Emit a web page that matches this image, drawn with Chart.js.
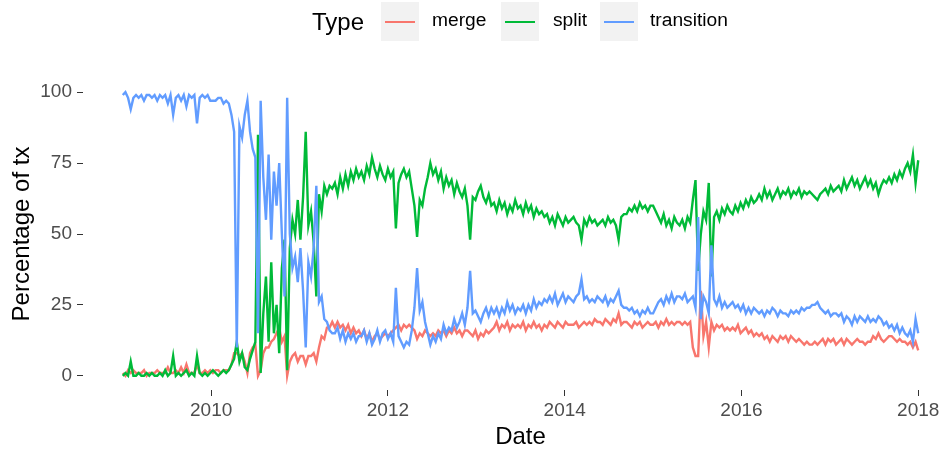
<!DOCTYPE html>
<html>
<head>
<meta charset="utf-8">
<script src="https://cdn.jsdelivr.net/npm/chart.js@4.4.1/dist/chart.umd.min.js"></script>
<style>
  body { margin: 0; background: #fff; overflow: hidden; }
  #wrap { position: relative; width: 946px; height: 455px; overflow: hidden; font-family: "Liberation Sans", Arial, sans-serif; }
  #chart { position: absolute; left: 0; top: 0; }
  .lg { position: absolute; white-space: nowrap; color: #000; }
  .key { position: absolute; top: 2px; width: 38px; height: 39px; background: #F2F2F2; }
  .key span { position: absolute; left: 4px; top: 19px; width: 30px; height: 2px; }
</style>
</head>
<body>
<div id="wrap">
  <canvas id="chart" width="960" height="455"></canvas>
  <!-- 凡例（上部） -->
  <div class="lg" style="left:312px; top:8px; font-size:24px; line-height:27px;">Type</div>
  <div class="key" style="left:381px;"><span style="background:#F8766D"></span></div>
  <div class="lg" style="left:432px; top:9px; font-size:19.2px; line-height:22px;">merge</div>
  <div class="key" style="left:501px;"><span style="background:#00BA38"></span></div>
  <div class="lg" style="left:553px; top:9px; font-size:19.2px; line-height:22px;">split</div>
  <div class="key" style="left:600px;"><span style="background:#619CFF"></span></div>
  <div class="lg" style="left:650px; top:9px; font-size:19.2px; line-height:22px;">transition</div>
</div>
<script>
// 値は画像から読み取り（0.03年おき、2009.00〜2018.00）
const merge = [
  1, 0, 2, 1, 2, 1, 1, 1, 2, 0,
  1, 1, 1, 2, 1, 1, 1, 3, 1, 1,
  2, 1, 3, 1, 4, 1, 1, 1, 4, 1,
  1, 2, 1, 2, 1, 2, 2, 1, 2, 2,
  2, 4, 8, 8, 7, 8, 5, 1, 8, 10,
  11, 0, 2, 8, 10, 10, 12, 13, 15, 17,
  12, 14, 0, 5, 7, 8, 5, 7, 7, 4,
  7, 7, 8, 5, 10, 14, 13, 17, 17, 19,
  17, 19, 17, 18, 16, 18, 15, 17, 15, 16,
  14, 16, 13, 15, 12, 14, 15, 13, 14, 15,
  14, 15, 16, 17, 18, 16, 18, 17, 18, 17,
  16, 13, 15, 14, 16, 15, 14, 15, 14, 16,
  15, 16, 14, 16, 15, 17, 15, 16, 14, 16,
  16, 15, 14, 16, 13, 15, 14, 16, 15, 16,
  17, 19, 16, 18, 17, 19, 16, 18, 17, 18,
  17, 19, 16, 18, 17, 19, 17, 18, 16, 18,
  17, 19, 18, 17, 19, 18, 17, 19, 18, 18,
  18, 19, 17, 18, 19, 18, 19, 18, 20, 19,
  19, 18, 20, 19, 18, 20, 19, 22, 18, 19,
  19, 18, 17, 19, 18, 19, 17, 18, 19, 18,
  18, 19, 17, 19, 18, 20, 18, 19, 18, 19,
  19, 18, 19, 18, 19, 10, 7, 7, 30, 14,
  19, 10, 19, 16, 18, 17, 18, 16, 17, 16,
  17, 16, 18, 15, 16, 17, 15, 16, 14, 15,
  14, 15, 13, 14, 12, 14, 13, 12, 14, 13,
  14, 12, 14, 13, 12, 13, 12, 11, 12, 11,
  11, 12, 11, 12, 13, 11, 13, 12, 13, 11,
  12, 13, 11, 13, 12, 11, 12, 13, 12, 12,
  11, 12, 12, 14, 13, 15, 13, 12, 13, 14,
  14, 13, 12, 13, 12, 12, 11, 12, 10, 12,
  9
];

const split = [
  0, 1, 0, 5, 0, 0, 1, 0, 0, 1,
  0, 1, 0, 0, 1, 0, 2, 0, 1, 7,
  0, 1, 0, 1, 2, 0, 1, 0, 7, 1,
  0, 1, 0, 1, 2, 1, 0, 1, 2, 1,
  2, 4, 6, 12, 5, 8, 3, 2, 6, 9,
  12, 85, 1, 22, 35, 12, 40, 15, 25, 8,
  38, 48, 2, 45, 55, 50, 62, 48, 63, 86,
  53, 58, 47, 28, 64, 58, 67, 64, 67, 66,
  68, 64, 70, 66, 71, 67, 72, 69, 73, 70,
  72, 69, 74, 71, 77, 73, 70, 74, 71, 69,
  73, 70, 72, 52, 68, 71, 73, 70, 72, 66,
  60, 49, 62, 60, 66, 70, 75, 71, 73, 69,
  72, 66, 70, 67, 69, 64, 68, 65, 63, 66,
  60, 48, 63, 62, 65, 67, 63, 61, 64, 60,
  61, 58, 62, 59, 61, 57, 60, 58, 62, 59,
  60, 57, 61, 58, 60, 56, 59, 57, 58, 56,
  57, 54, 56, 53, 57, 55, 53, 56, 54, 55,
  56, 54, 53, 48, 55, 53, 56, 54, 55, 53,
  54, 55, 53, 56, 54, 55, 53, 48, 56, 57,
  57, 59, 58, 60, 58, 61, 59, 60, 58, 60,
  60, 58, 56, 54, 57, 53, 55, 52, 56, 54,
  53, 55, 52, 56, 54, 62, 69, 37, 50, 58,
  55, 68, 35, 56, 58, 55, 59, 57, 60, 58,
  57, 60, 58, 61, 59, 62, 60, 63, 61, 62,
  64, 62, 66, 63, 65, 62, 64, 66, 63, 65,
  64, 66, 63, 65, 64, 66, 63, 65, 64, 65,
  64, 63, 62, 64, 65, 66, 64, 67, 65, 66,
  67, 65, 69, 66, 68, 70, 67, 69, 66, 68,
  70, 67, 69, 66, 68, 64, 67, 69, 68, 70,
  68, 71, 69, 72, 70, 73, 75, 72, 78, 68,
  76
];

const transition = [
  99, 100, 98, 94, 98, 99, 98, 99, 97, 99,
  99, 98, 99, 97, 99, 98, 99, 96, 99, 92,
  98, 99, 97, 99, 95, 99, 98, 99, 89, 98,
  99, 98, 99, 97, 97, 97, 98, 98, 96, 97,
  96, 92, 86, 10, 88, 84, 92, 97, 86, 80,
  77, 15, 97, 70, 55, 78, 48, 72, 60, 75,
  50, 28, 98, 50, 38, 42, 33, 45, 30, 10,
  40, 35, 45, 67, 26, 28, 20, 19, 16, 15,
  15, 17, 13, 16, 12, 15, 13, 15, 12, 14,
  14, 16, 12, 15, 11, 13, 16, 12, 15, 16,
  13, 15, 12, 31, 14, 12, 10, 12, 11, 16,
  24, 38, 23, 26, 19, 15, 11, 14, 12, 15,
  13, 18, 15, 17, 16, 20, 17, 19, 22, 18,
  24, 37, 22, 23, 21, 19, 22, 24, 21, 24,
  22, 24, 21, 24, 22, 26, 23, 25, 22, 24,
  23, 25, 22, 25, 23, 27, 24, 26, 25, 27,
  26, 28, 26, 29, 25, 27, 29, 26, 28, 27,
  26, 28, 29, 34, 27, 28, 26, 27, 26, 28,
  27, 26, 28, 25, 27, 26, 28, 30, 25, 24,
  24, 23, 24, 22, 23, 21, 23, 22, 24, 22,
  22, 24, 26, 27, 25, 28, 26, 29, 26, 28,
  28, 27, 29, 26, 27, 28, 24, 56, 20, 28,
  26, 22, 46, 27, 25, 28, 24, 26, 24, 25,
  26, 24, 25, 23, 25, 22, 24, 22, 24, 23,
  22, 23, 21, 23, 22, 24, 23, 21, 23, 22,
  22, 21, 23, 22, 23, 22, 24, 23, 24, 24,
  25, 25, 26, 24, 23, 22, 23, 21, 22, 22,
  21, 22, 19, 21, 20, 18, 21, 19, 21, 20,
  19, 21, 19, 20, 19, 21, 20, 18, 19, 17,
  18, 16, 18, 15, 17, 15, 14, 16, 12, 20,
  15
];

// 日付（年の小数表記）
const dates = merge.map((_, i) => +(2009 + i * 0.03).toFixed(2));

const xTicks = [2010, 2012, 2014, 2016, 2018];
const yTicks = [0, 25, 50, 75, 100];

function toPoints(values) {
    return values.map((v, i) => ({ x: dates[i], y: v }));
}

const tickFont = { family: "Liberation Sans", size: 19 };
const titleFont = { family: "Liberation Sans", size: 24 };

const ctx = document.getElementById('chart').getContext('2d');
const chart = new Chart(ctx, {
    type: 'line',
    data: {
        datasets: [
            { label: 'merge', data: toPoints(merge), borderColor: '#F8766D', order: 3 },
            { label: 'split', data: toPoints(split), borderColor: '#00BA38', order: 2 },
            { label: 'transition', data: toPoints(transition), borderColor: '#619CFF', order: 1 }
        ]
    },
    options: {
        responsive: false,
        animation: false,
        layout: { padding: { top: 78, left: 0, right: 2, bottom: 0 } },
        elements: {
            point: { radius: 0 },
            line: { borderWidth: 2.4, tension: 0, borderJoinStyle: 'miter' }
        },
        plugins: {
            legend: { display: false },
            tooltip: { enabled: false }
        },
        scales: {
            x: {
                type: 'linear',
                min: 2008.55,
                max: 2018.45,
                afterFit: (s) => { s.height = 65; },
                afterBuildTicks: (s) => { s.ticks = xTicks.map(v => ({ value: v })); },
                ticks: {
                    autoSkip: false, maxRotation: 0, padding: 3,
                    color: '#4D4D4D', font: tickFont,
                    callback: (v) => String(v)
                },
                grid: { drawOnChartArea: false, drawTicks: true, tickLength: 6, color: '#333333' },
                border: { display: false },
                title: { display: true, text: 'Date', color: '#000', font: titleFont, padding: { top: 0, bottom: 3 } }
            },
            y: {
                min: -5,
                max: 105,
                afterFit: (s) => { s.width = 83; },
                afterBuildTicks: (s) => { s.ticks = yTicks.map(v => ({ value: v })); },
                ticks: {
                    autoSkip: false, padding: 5,
                    color: '#4D4D4D', font: tickFont,
                    callback: (v) => String(v)
                },
                grid: { drawOnChartArea: false, drawTicks: true, tickLength: 6, color: '#333333' },
                border: { display: false },
                title: { display: true, text: 'Percentage of tx', color: '#000', font: titleFont, padding: { top: 8, bottom: 0 } }
            }
        }
    }
});
</script>
</body>
</html>
